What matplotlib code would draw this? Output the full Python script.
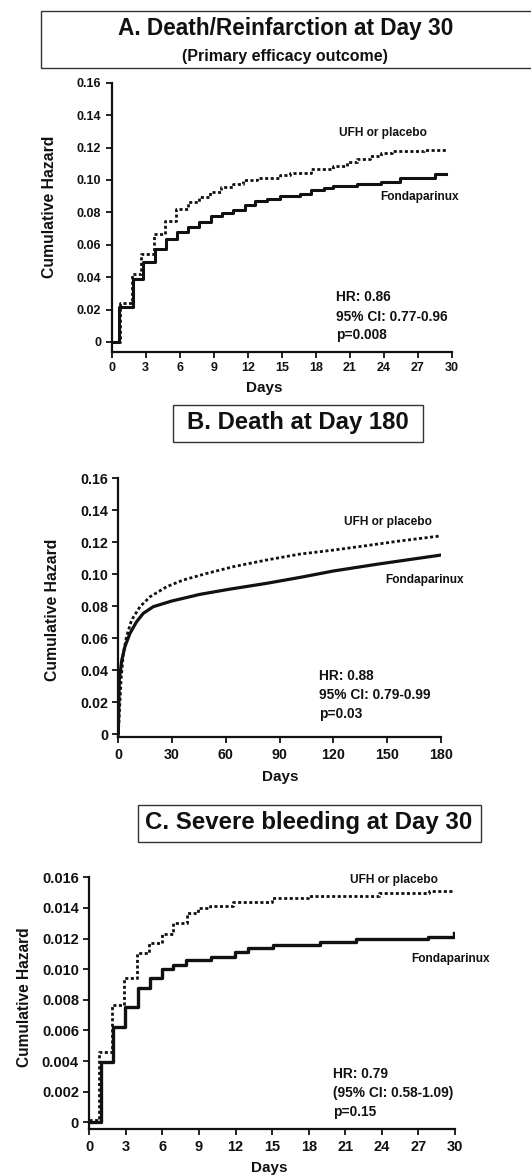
import matplotlib
matplotlib.use("Agg")
import matplotlib.pyplot as plt
from matplotlib.patches import Rectangle

plt.rcParams['font.family'] = ['Liberation Sans', 'DejaVu Sans']
plt.rcParams['font.weight'] = 'bold'

# ---------------- data ----------------
# Panel A: Death/Reinfarction at Day 30 (step changes, days / cumulative hazard)
a_fonda_days = [0, 0.68, 1.9, 2.8, 3.8, 4.76, 5.8, 6.76, 7.7, 8.76, 9.7, 10.7, 11.75,
                12.6, 13.7, 14.8, 16.6, 17.6, 18.7, 19.5, 21.6, 23.7, 25.4, 28.5, 29.5]
a_fonda_haz = [0, 0.0218, 0.0389, 0.0492, 0.0574, 0.0636, 0.0677, 0.071, 0.0743, 0.078,
               0.0798, 0.0812, 0.0845, 0.0868, 0.0882, 0.090, 0.0915, 0.0938, 0.095,
               0.0963, 0.0975, 0.099, 0.1012, 0.1035, 0.1035]
a_ufh_days = [0, 0.73, 1.76, 2.6, 3.7, 4.7, 5.7, 6.76, 7.7, 8.7, 9.6, 10.7, 11.6, 12.8,
              14.8, 15.7, 17.6, 19.5, 20.7, 21.6, 22.8, 23.7, 24.7, 27.5, 29.5]
a_ufh_haz = [0, 0.0239, 0.042, 0.054, 0.0666, 0.0745, 0.082, 0.0866, 0.0897, 0.0928,
             0.0954, 0.0973, 0.100, 0.1014, 0.1028, 0.1043, 0.1068, 0.1086, 0.1113,
             0.1131, 0.115, 0.1164, 0.1179, 0.1187, 0.1187]

# Panel B: Death at Day 180 (smooth curves)
b_fonda_days = [0, 0.56, 1.9, 3.7, 6.5, 10.2, 13.9, 19.5, 29.7, 45.5, 61.3, 82.7, 101.3,
                119.9, 144, 180]
b_fonda_haz = [0, 0.034, 0.046, 0.0547, 0.063, 0.0703, 0.0755, 0.0797, 0.0832, 0.0874,
               0.0905, 0.0943, 0.098, 0.102, 0.1062, 0.112]
b_ufh_days = [0, 0.8, 1.6, 2.8, 4.6, 7.4, 12.1, 17.7, 27, 36.3, 49.3, 64.1, 82.7, 101.3,
              120, 138.5, 157, 179.4]
b_ufh_haz = [0, 0.018, 0.035, 0.0505, 0.061, 0.0713, 0.0797, 0.0859, 0.0922, 0.0964,
             0.1005, 0.1047, 0.1089, 0.1126, 0.1151, 0.1179, 0.1208, 0.1239]

# Panel C: Severe bleeding at Day 30
c_fonda_days = [0, 1.0, 1.97, 2.93, 3.96, 4.98, 5.93, 6.9, 7.9, 9.95, 11.95, 13.04,
                15.04, 18.9, 21.9, 27.8, 29.9]
c_fonda_haz = [0.00004, 0.00396, 0.00625, 0.0075, 0.00875, 0.0094, 0.0100, 0.01027,
               0.0106, 0.01082, 0.0111, 0.0114, 0.01158, 0.0118, 0.01197, 0.01213, 0.01239]
c_ufh_days = [0, 0.82, 1.83, 2.87, 3.88, 4.92, 5.93, 6.9, 7.98, 8.94, 9.9, 11.8, 14.96,
              17.97, 23.8, 27.9, 30]
c_ufh_haz = [0.00015, 0.0046, 0.00766, 0.0094, 0.01108, 0.01169, 0.0123, 0.013, 0.01365,
             0.01398, 0.01413, 0.01441, 0.01463, 0.01478, 0.01496, 0.01511, 0.01511]

a_yticks = [0, 0.02, 0.04, 0.06, 0.08, 0.10, 0.12, 0.14, 0.16]
a_yticklabels = ['0', '0.02', '0.04', '0.06', '0.08', '0.10', '0.12', '0.14', '0.16']
a_xticks = [0, 3, 6, 9, 12, 15, 18, 21, 24, 27, 30]
b_xticks = [0, 30, 60, 90, 120, 150, 180]
c_yticks = [0, 0.002, 0.004, 0.006, 0.008, 0.010, 0.012, 0.014, 0.016]
c_yticklabels = ['0', '0.002', '0.004', '0.006', '0.008', '0.010', '0.012', '0.014', '0.016']

# ---------------- figure ----------------
W, H = 531, 1176
fig = plt.figure(figsize=(W / 100, H / 100), dpi=100)


def ax_px(left, right, top, bottom):
    return fig.add_axes([left / W, 1 - bottom / H, (right - left) / W, (bottom - top) / H])


def ftext(x, y, s, **kw):
    fig.text(x / W, 1 - y / H, s, **kw)


def box(x0, y0, x1, y1):
    fig.patches.append(Rectangle((x0 / W, 1 - y1 / H), (x1 - x0) / W, (y1 - y0) / H,
                                 transform=fig.transFigure, fill=False,
                                 edgecolor='#333333', linewidth=1.0))


DOT = (0, (1.1, 0.9))
INK = '#111111'


def style(ax, fs):
    for s in ['top', 'right']:
        ax.spines[s].set_visible(False)
    for s in ['left', 'bottom']:
        ax.spines[s].set_linewidth(1.6)
        ax.spines[s].set_color(INK)
    ax.tick_params(direction='out', length=4.5, width=1.3, colors=INK, labelsize=fs, pad=3)
    for lab in ax.get_xticklabels() + ax.get_yticklabels():
        lab.set_fontweight('bold')


LBL = 8.6   # curve label size
HRS = 9.9   # statistics text size

# ---- Panel A ----
box(41, 10.7, 540, 68)
ftext(286, 29, 'A. Death/Reinfarction at Day 30', ha='center', va='center',
      fontsize=16.3, fontweight='bold', color=INK)
ftext(285, 57, '(Primary efficacy outcome)', ha='center', va='center',
      fontsize=11.5, fontweight='bold', color=INK)
axA = ax_px(111.7, 452, 82.7, 351.7)
axA.step(a_fonda_days, a_fonda_haz, where='post', color=INK, lw=2.2)
axA.step(a_ufh_days, a_ufh_haz, where='post', color=INK, lw=2.0, linestyle=DOT)
axA.set_xlim(0, 30)
axA.set_ylim(-0.006, 0.16)
axA.set_xticks(a_xticks)
axA.set_yticks(a_yticks)
axA.set_yticklabels(a_yticklabels)
style(axA, 9)
axA.text(20.0, 0.129, 'UFH or placebo', fontsize=LBL, fontweight='bold', va='center', color=INK)
axA.text(23.65, 0.0895, 'Fondaparinux', fontsize=LBL, fontweight='bold', va='center', color=INK)
axA.text(19.8, 0.0278, 'HR: 0.86', fontsize=HRS, fontweight='bold', va='center', color=INK)
axA.text(19.8, 0.0154, '95% CI: 0.77-0.96', fontsize=HRS, fontweight='bold', va='center', color=INK)
axA.text(19.8, 0.0043, 'p=0.008', fontsize=HRS, fontweight='bold', va='center', color=INK)
ftext(50, 207, 'Cumulative Hazard', rotation=90, ha='center', va='center',
      fontsize=11.3, fontweight='bold', color=INK)
ftext(264, 388, 'Days', ha='center', va='center', fontsize=11, fontweight='bold', color=INK)

# ---- Panel B ----
box(173, 405, 423, 441.7)
ftext(298, 423, 'B. Death at Day 180', ha='center', va='center',
      fontsize=17.2, fontweight='bold', color=INK)
axB = ax_px(118.3, 441, 478.3, 737.3)
axB.plot(b_fonda_days, b_fonda_haz, color=INK, lw=2.3)
axB.plot(b_ufh_days, b_ufh_haz, color=INK, lw=2.0, linestyle=DOT)
axB.set_xlim(0, 180)
axB.set_ylim(-0.002, 0.16)
axB.set_xticks(b_xticks)
axB.set_yticks(a_yticks)
axB.set_yticklabels(a_yticklabels)
style(axB, 10.3)
axB.text(125.9, 0.1329, 'UFH or placebo', fontsize=LBL, fontweight='bold', va='center', color=INK)
axB.text(148.7, 0.0964, 'Fondaparinux', fontsize=LBL, fontweight='bold', va='center', color=INK)
axB.text(112.1, 0.0363, 'HR: 0.88', fontsize=HRS, fontweight='bold', va='center', color=INK)
axB.text(112.1, 0.0244, '95% CI: 0.79-0.99', fontsize=HRS, fontweight='bold', va='center', color=INK)
axB.text(112.1, 0.0123, 'p=0.03', fontsize=HRS, fontweight='bold', va='center', color=INK)
ftext(53, 610, 'Cumulative Hazard', rotation=90, ha='center', va='center',
      fontsize=11.3, fontweight='bold', color=INK)
ftext(280, 777, 'Days', ha='center', va='center', fontsize=11, fontweight='bold', color=INK)

# ---- Panel C ----
box(138, 805, 481, 842)
ftext(309, 823, 'C. Severe bleeding at Day 30', ha='center', va='center',
      fontsize=17.3, fontweight='bold', color=INK)
axC = ax_px(89.3, 455, 877.3, 1129.3)
axC.step(c_fonda_days, c_fonda_haz, where='post', color=INK, lw=2.4)
axC.step(c_ufh_days, c_ufh_haz, where='post', color=INK, lw=2.0, linestyle=DOT)
axC.set_xlim(0, 30)
axC.set_ylim(-0.00046, 0.016)
axC.set_xticks(a_xticks)
axC.set_yticks(c_yticks)
axC.set_yticklabels(c_yticklabels)
style(axC, 10.5)
axC.text(21.4, 0.01582, 'UFH or placebo', fontsize=LBL, fontweight='bold', va='center', color=INK)
axC.text(26.4, 0.01065, 'Fondaparinux', fontsize=LBL, fontweight='bold', va='center', color=INK)
axC.text(20.0, 0.00315, 'HR: 0.79', fontsize=HRS, fontweight='bold', va='center', color=INK)
axC.text(20.0, 0.0019, '(95% CI: 0.58-1.09)', fontsize=HRS, fontweight='bold', va='center', color=INK)
axC.text(20.0, 0.0007, 'p=0.15', fontsize=HRS, fontweight='bold', va='center', color=INK)
ftext(25, 997, 'Cumulative Hazard', rotation=90, ha='center', va='center',
      fontsize=11.2, fontweight='bold', color=INK)
ftext(269, 1168, 'Days', ha='center', va='center', fontsize=11, fontweight='bold', color=INK)

fig.savefig('out.png', dpi=100)
